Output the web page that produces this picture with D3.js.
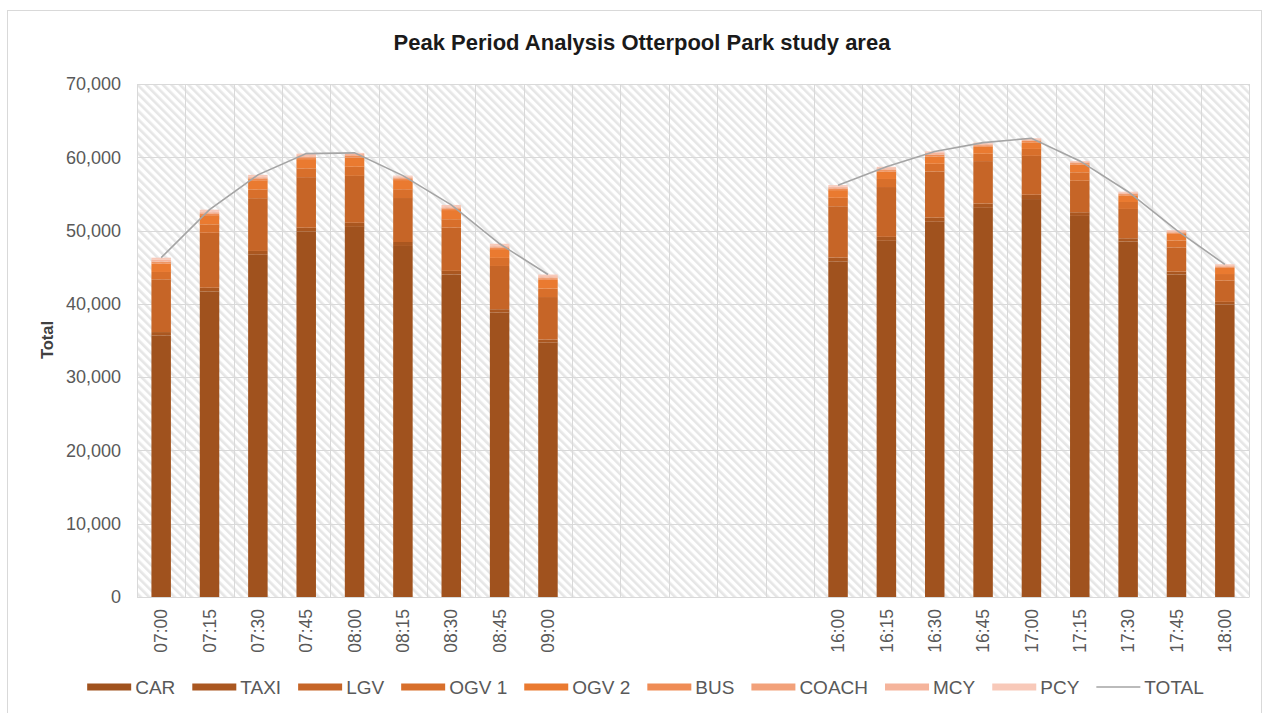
<!DOCTYPE html>
<html>
<head>
<meta charset="utf-8">
<script src="https://cdn.jsdelivr.net/npm/d3@7"></script>
<style>
  html, body { margin: 0; padding: 0; background: #fff; }
  svg { display: block; font-family: "Liberation Sans", Arial, sans-serif; }
</style>
</head>
<body>
<svg id="chart" width="1264" height="713"></svg>
<script>
// Time slots (blank slots sit between the AM and PM peaks)
const timeLabels = ["07:00","07:15","07:30","07:45","08:00","08:15","08:30","08:45","09:00",
  "","","","","",
  "16:00","16:15","16:30","16:45","17:00","17:15","17:30","17:45","18:00"];

// Vehicle counts per slot (null = no count for that slot)
const car   = [35700,41700,46700,49850,50500,47900,44000,38800,34700, null,null,null,null,null, 45800,48600,51200,53100,54300,52000,48500,44000,39900];
const taxi  = [450,500,520,540,560,540,500,470,430, null,null,null,null,null, 520,540,560,580,590,500,450,400,370];
const lgv   = [7200,7500,7200,6900,6400,6000,5900,5900,5800, null,null,null,null,null, 7000,6800,6300,5800,5300,4300,4000,3300,2900];
const ogv1  = [1000,1150,1200,1200,1250,1200,1150,1100,1150, null,null,null,null,null, 1150,1100,1050,1000,950,1150,950,950,900];
const ogv2  = [1150,1250,1250,1260,1250,1250,1250,1200,1200, null,null,null,null,null, 1050,1000,1000,950,900,1050,900,900,850];
const bus   = [200,230,240,250,250,240,230,220,220, null,null,null,null,null, 210,210,210,200,200,200,170,170,160];
const coach = [80,90,90,100,100,100,100,100,100, null,null,null,null,null, 90,90,90,90,80,80,70,70,60];
const mcy   = [220,200,190,190,140,130,180,190,170, null,null,null,null,null, 180,170,180,130,130,100,110,120,120];
const pcy   = [300,230,210,210,150,140,190,220,230, null,null,null,null,null, 200,190,210,150,150,120,150,140,140];

const seriesNames  = ["CAR","TAXI","LGV","OGV 1","OGV 2","BUS","COACH","MCY","PCY"];
const seriesValues = [car, taxi, lgv, ogv1, ogv2, bus, coach, mcy, pcy];
const seriesColors = ["#A0521E","#AA5720","#C66527","#D86F2B","#EA7A30","#EF8C55","#F2A17A","#F5B49B","#F8C9B9"];
const totalColor = "#A5A5A5";

const yTicks = [0,10000,20000,30000,40000,50000,60000,70000];

// Rows for stacking
const rows = timeLabels.map((t, i) => {
  const r = { i, label: t, has: car[i] != null };
  seriesNames.forEach((s, k) => { r[s] = seriesValues[k][i] || 0; });
  r.total = r.has ? d3.sum(seriesNames, s => r[s]) : null;
  return r;
});

const svg = d3.select("#chart");
const plot = { left: 137, right: 1249, top: 84, bottom: 597 };
const font = "'Liberation Sans', Arial, sans-serif";

// Outer chart border
svg.append("rect").attr("x", 7.5).attr("y", 10.5).attr("width", 1254).attr("height", 710)
  .attr("fill", "#fff").attr("stroke", "#D9D9D9").attr("stroke-width", 1);

// Hatched plot-area background
const defs = svg.append("defs");
const pat = defs.append("pattern").attr("id", "hatch").attr("patternUnits", "userSpaceOnUse")
  .attr("width", 6).attr("height", 6).attr("patternTransform", "rotate(-45)");
pat.append("rect").attr("width", 6).attr("height", 6).attr("fill", "#FFFFFF");
pat.append("rect").attr("width", 2.6).attr("height", 6).attr("fill", "#E6E6E6");

svg.append("rect").attr("x", plot.left).attr("y", plot.top)
  .attr("width", plot.right - plot.left).attr("height", plot.bottom - plot.top)
  .attr("fill", "url(#hatch)");

const x = d3.scaleBand().domain(d3.range(timeLabels.length))
  .range([plot.left, plot.right]).paddingInner(0.597).paddingOuter(0.597 / 2);
const step = x.step();
const y = d3.scaleLinear().domain([0, 70000]).range([plot.bottom, plot.top]);

// Gridlines
const grid = svg.append("g").attr("stroke", "#D9D9D9").attr("stroke-width", 1);
yTicks.forEach(v => {
  grid.append("line").attr("x1", plot.left).attr("x2", plot.right)
    .attr("y1", Math.round(y(v)) + 0.5).attr("y2", Math.round(y(v)) + 0.5);
});
d3.range(timeLabels.length + 1).forEach(k => {
  const gx = Math.round(plot.left + k * step) + 0.5;
  grid.append("line").attr("x1", gx).attr("x2", gx).attr("y1", plot.top).attr("y2", plot.bottom);
});

// Stacked bars
const stack = d3.stack().keys(seriesNames);
const layers = stack(rows.filter(r => r.has));
svg.append("g").selectAll("g").data(layers).join("g")
  .attr("fill", (d, k) => seriesColors[k])
  .selectAll("rect").data(d => d).join("rect")
  .attr("x", d => x(d.data.i))
  .attr("width", x.bandwidth())
  .attr("y", d => y(d[1]))
  .attr("height", d => y(d[0]) - y(d[1]));

// TOTAL line (breaks over the blank slots)
const line = d3.line().defined(d => d.has)
  .x(d => x(d.i) + x.bandwidth() / 2).y(d => y(d.total));
svg.append("path").datum(rows).attr("d", line)
  .attr("fill", "none").attr("stroke", totalColor).attr("stroke-width", 1.6);

// Y axis
const yAxis = d3.axisLeft(y).tickValues(yTicks).tickFormat(d3.format(",")).tickSize(0).tickPadding(0);
const ya = svg.append("g").attr("transform", `translate(${plot.left - 16},0)`).call(yAxis);
ya.select(".domain").remove();
ya.selectAll("text").attr("fill", "#595959").style("font-size", "18px").style("font-family", font);

// X axis
const xAxis = d3.axisBottom(x).tickFormat(i => timeLabels[i]).tickSize(0);
const xa = svg.append("g").attr("transform", `translate(0,${plot.bottom})`).call(xAxis);
xa.select(".domain").attr("stroke", "#D9D9D9");
xa.selectAll("text").attr("fill", "#595959").style("font-size", "17.5px").style("font-family", font)
  .attr("text-anchor", "end").attr("transform", "rotate(-90)")
  .attr("x", -12).attr("y", 0).attr("dy", "0.35em");

// Axis title
svg.append("text").attr("transform", "translate(53,340) rotate(-90)")
  .attr("text-anchor", "middle").attr("font-weight", "bold").attr("font-size", 16.5)
  .attr("fill", "#404040").text("Total");

// Chart title
svg.append("text").attr("x", 642).attr("y", 50).attr("text-anchor", "middle")
  .attr("font-weight", "bold").attr("font-size", 22).attr("fill", "#1A1A1A")
  .text("Peak Period Analysis Otterpool Park study area");

// Legend
const legendItems = seriesNames.map((n, k) => ({ name: n, color: seriesColors[k], type: "bar" }))
  .concat([{ name: "TOTAL", color: totalColor, type: "line" }]);
const legendGap = 17;
const lg = svg.append("g");
let cx = 0;
legendItems.forEach(it => {
  const g = lg.append("g").attr("transform", `translate(${cx},0)`);
  if (it.type === "bar") {
    g.append("rect").attr("x", 0).attr("y", -3.5).attr("width", 44).attr("height", 7).attr("fill", it.color);
  } else {
    g.append("line").attr("x1", 0).attr("x2", 44).attr("y1", 0).attr("y2", 0)
      .attr("stroke", it.color).attr("stroke-width", 1.6);
  }
  const t = g.append("text").attr("x", 48).attr("y", 0).attr("dy", "0.35em")
    .attr("font-size", 19).attr("fill", "#595959").text(it.name);
  cx += 48 + t.node().getComputedTextLength() + legendGap;
});
const legendWidth = cx - legendGap;
lg.attr("transform", `translate(${645.5 - legendWidth / 2},687)`);
</script>
</body>
</html>
